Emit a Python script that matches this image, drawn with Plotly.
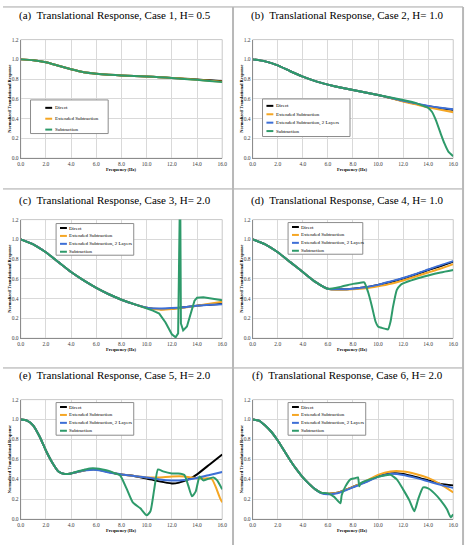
import plotly.graph_objects as go

W, H = 471, 548

# ---------------- data ----------------
series_names = ["Direct", "Extended Subtraction", "Extended Subtraction, 2 Layers", "Subtraction"]
series_colors = ["#000000", "#F5A623", "#3D6FD6", "#2E9A6A"]

x_ticks = [0, 2, 4, 6, 8, 10, 12, 14, 16]
y_ticks = [0.0, 0.2, 0.4, 0.6, 0.8, 1.0, 1.2]

# (a) Case 1
fa = [0, 1, 2, 3, 4, 5, 6, 7, 8, 9, 10, 11, 12, 13, 14, 15, 16]
a_direct = [1.00, 0.99, 0.97, 0.935, 0.90, 0.87, 0.855, 0.845, 0.838, 0.832, 0.826, 0.82, 0.812, 0.805, 0.797, 0.788, 0.778]
a_ext = [1.00, 0.99, 0.97, 0.935, 0.90, 0.87, 0.855, 0.845, 0.838, 0.832, 0.826, 0.82, 0.812, 0.804, 0.795, 0.785, 0.774]
a_sub = [1.00, 0.99, 0.97, 0.935, 0.90, 0.87, 0.855, 0.845, 0.838, 0.832, 0.826, 0.82, 0.811, 0.802, 0.793, 0.782, 0.770]

# (b) Case 2
fb = [0, 1, 2, 3, 4, 5, 6, 7, 8, 9, 10, 11, 12, 13, 14, 15, 16]
b_direct = [1.00, 0.98, 0.94, 0.88, 0.825, 0.78, 0.745, 0.715, 0.69, 0.665, 0.64, 0.61, 0.58, 0.55, 0.525, 0.505, 0.49]
b_ext = [1.00, 0.98, 0.94, 0.88, 0.825, 0.78, 0.745, 0.715, 0.69, 0.665, 0.64, 0.61, 0.575, 0.545, 0.515, 0.49, 0.465]
b_ext2 = [1.00, 0.98, 0.94, 0.88, 0.825, 0.78, 0.745, 0.715, 0.69, 0.665, 0.64, 0.612, 0.582, 0.555, 0.53, 0.51, 0.495]
fb_sub = [0, 1, 2, 3, 4, 5, 6, 7, 8, 9, 10, 11, 12, 13, 13.5, 14, 14.3, 14.6, 15, 15.3, 15.6, 16]
b_sub = [1.00, 0.98, 0.94, 0.88, 0.825, 0.78, 0.745, 0.715, 0.69, 0.665, 0.64, 0.615, 0.59, 0.56, 0.535, 0.51, 0.47, 0.39, 0.25, 0.15, 0.07, 0.02]

# (c) Case 3
fc = [0, 1, 2, 3, 4, 5, 6, 7, 8, 9, 10, 11, 12, 13, 14, 15, 16]
c_direct = [1.00, 0.95, 0.87, 0.77, 0.67, 0.585, 0.51, 0.445, 0.39, 0.345, 0.31, 0.295, 0.30, 0.315, 0.33, 0.34, 0.35]
c_ext = [1.00, 0.95, 0.87, 0.77, 0.67, 0.585, 0.51, 0.445, 0.39, 0.345, 0.308, 0.29, 0.295, 0.31, 0.33, 0.35, 0.37]
c_ext2 = [1.00, 0.95, 0.87, 0.77, 0.67, 0.585, 0.51, 0.445, 0.39, 0.345, 0.31, 0.30, 0.305, 0.315, 0.33, 0.34, 0.345]
fc_sub = [0, 1, 2, 3, 4, 5, 6, 7, 8, 9, 10, 10.5, 11, 11.5, 12, 12.3, 12.5, 12.6, 12.66, 12.72, 12.9, 13.2, 13.5, 13.8, 14, 14.5, 15, 16]
c_sub = [1.00, 0.95, 0.87, 0.77, 0.67, 0.585, 0.51, 0.445, 0.39, 0.345, 0.305, 0.28, 0.25, 0.16, 0.04, 0.01, 0.05, 1.6, 1.6, 0.15, 0.08, 0.12, 0.25, 0.38, 0.41, 0.415, 0.405, 0.385]

# (d) Case 4
fd = [0, 1, 2, 3, 4, 5, 6, 7, 8, 9, 10, 11, 12, 13, 14, 15, 16]
d_direct = [1.00, 0.95, 0.87, 0.77, 0.67, 0.57, 0.50, 0.495, 0.50, 0.515, 0.54, 0.57, 0.605, 0.645, 0.69, 0.73, 0.775]
d_ext = [1.00, 0.95, 0.87, 0.77, 0.67, 0.57, 0.50, 0.49, 0.495, 0.505, 0.525, 0.55, 0.585, 0.625, 0.665, 0.705, 0.75]
d_ext2 = [1.00, 0.95, 0.87, 0.77, 0.67, 0.57, 0.50, 0.495, 0.50, 0.515, 0.54, 0.575, 0.61, 0.65, 0.695, 0.74, 0.78]
fd_sub = [0, 1, 2, 3, 4, 5, 6, 7, 8, 8.5, 8.9, 9.2, 9.5, 9.8, 10, 10.3, 10.6, 10.8, 11, 11.2, 11.5, 11.8, 12, 13, 14, 15, 16]
d_sub = [1.00, 0.95, 0.87, 0.77, 0.67, 0.57, 0.50, 0.52, 0.55, 0.56, 0.565, 0.47, 0.33, 0.17, 0.12, 0.105, 0.095, 0.09, 0.17, 0.32, 0.49, 0.54, 0.555, 0.60, 0.635, 0.665, 0.69]

# (e) Case 5
fe = [0, 0.5, 1, 1.5, 2, 2.5, 3, 3.5, 4, 4.5, 5, 5.5, 6, 6.5, 7, 7.5, 8, 9, 10, 11, 12, 12.5, 13, 13.5, 14, 15, 16]
e_direct = [1.00, 0.99, 0.94, 0.83, 0.69, 0.57, 0.48, 0.455, 0.46, 0.475, 0.49, 0.50, 0.50, 0.49, 0.475, 0.46, 0.45, 0.435, 0.41, 0.38, 0.36, 0.365, 0.385, 0.41, 0.45, 0.55, 0.65]
fe_ext = [0, 0.5, 1, 1.5, 2, 2.5, 3, 3.5, 4, 4.5, 5, 5.5, 6, 6.5, 7, 7.5, 8, 9, 10, 11, 12, 13, 13.5, 14, 14.5, 15, 15.2, 15.5, 15.8, 16]
e_ext = [1.00, 0.99, 0.94, 0.83, 0.69, 0.57, 0.48, 0.455, 0.46, 0.475, 0.49, 0.50, 0.50, 0.49, 0.475, 0.46, 0.45, 0.435, 0.42, 0.42, 0.43, 0.43, 0.42, 0.41, 0.41, 0.41, 0.40, 0.32, 0.22, 0.17]
fe_ext2 = [0, 0.5, 1, 1.5, 2, 2.5, 3, 3.5, 4, 4.5, 5, 5.5, 6, 6.5, 7, 7.5, 8, 9, 10, 11, 12, 13, 14, 15, 16]
e_ext2 = [1.00, 0.99, 0.94, 0.83, 0.69, 0.57, 0.48, 0.455, 0.46, 0.475, 0.49, 0.495, 0.495, 0.485, 0.47, 0.46, 0.45, 0.435, 0.42, 0.40, 0.39, 0.395, 0.415, 0.445, 0.475]
fe_sub = [0, 0.5, 1, 1.5, 2, 2.5, 3, 3.5, 4, 4.5, 5, 5.5, 6, 6.5, 7, 7.5, 7.9, 8.4, 8.9, 9.5, 10, 10.3, 10.6, 10.9, 11.3, 12, 12.5, 13, 13.3, 13.6, 13.9, 14.2, 14.5, 15, 15.3, 15.6, 16]
e_sub = [1.00, 0.99, 0.94, 0.83, 0.69, 0.57, 0.48, 0.455, 0.46, 0.48, 0.495, 0.51, 0.51, 0.50, 0.485, 0.46, 0.44, 0.31, 0.17, 0.11, 0.04, 0.08, 0.30, 0.50, 0.48, 0.46, 0.46, 0.445, 0.34, 0.23, 0.28, 0.43, 0.39, 0.41, 0.42, 0.39, 0.30]

# (f) Case 6
ff = [0, 0.5, 1, 1.5, 2, 2.5, 3, 3.5, 4, 4.5, 5, 5.5, 6, 6.5, 7, 7.5, 8, 9, 10, 11, 12, 13, 14, 15, 16]
f_direct = [1.00, 0.99, 0.94, 0.875, 0.79, 0.69, 0.59, 0.50, 0.42, 0.355, 0.30, 0.265, 0.255, 0.26, 0.275, 0.30, 0.325, 0.375, 0.43, 0.46, 0.455, 0.425, 0.39, 0.355, 0.34]
f_ext = [1.00, 0.99, 0.94, 0.875, 0.79, 0.69, 0.59, 0.50, 0.42, 0.355, 0.30, 0.265, 0.255, 0.26, 0.275, 0.30, 0.325, 0.38, 0.445, 0.48, 0.48, 0.455, 0.415, 0.35, 0.27]
f_ext2 = [1.00, 0.99, 0.94, 0.875, 0.79, 0.69, 0.59, 0.50, 0.42, 0.355, 0.30, 0.26, 0.25, 0.255, 0.27, 0.295, 0.32, 0.37, 0.425, 0.455, 0.445, 0.415, 0.38, 0.345, 0.315]
ff_sub = [0, 0.5, 1, 1.5, 2, 2.5, 3, 3.5, 4, 4.5, 5, 5.5, 6, 6.5, 7, 7.1, 7.4, 7.8, 8.1, 8.4, 8.5, 8.6, 9, 10, 10.5, 11, 11.5, 12, 12.5, 12.9, 13.2, 13.6, 14, 14.5, 15, 15.5, 15.8, 16]
f_sub = [1.00, 0.99, 0.94, 0.875, 0.79, 0.69, 0.59, 0.50, 0.42, 0.355, 0.30, 0.265, 0.26, 0.225, 0.16, 0.24, 0.33, 0.40, 0.41, 0.42, 0.33, 0.36, 0.385, 0.425, 0.44, 0.445, 0.40, 0.30, 0.19, 0.08, 0.20, 0.32, 0.31, 0.26, 0.19, 0.10, 0.02, 0.05]

panel_titles = [
    "(a)  Translational Response, Case 1, H= 0.5",
    "(b)  Translational Response, Case 2, H= 1.0",
    "(c)  Translational Response, Case 3, H= 2.0",
    "(d)  Translational Response, Case 4, H= 1.0",
    "(e)  Translational Response, Case 5, H= 2.0",
    "(f)  Translational Response, Case 6, H= 2.0",
]

# per panel: list of (series index, x, y)
panels = [
    [(0, fa, a_direct), (1, fa, a_ext), (3, fa, a_sub)],
    [(0, fb, b_direct), (1, fb, b_ext), (2, fb, b_ext2), (3, fb_sub, b_sub)],
    [(0, fc, c_direct), (1, fc, c_ext), (2, fc, c_ext2), (3, fc_sub, c_sub)],
    [(0, fd, d_direct), (1, fd, d_ext), (2, fd, d_ext2), (3, fd_sub, d_sub)],
    [(0, fe, e_direct), (1, fe_ext, e_ext), (2, fe_ext2, e_ext2), (3, fe_sub, e_sub)],
    [(0, ff, f_direct), (1, ff, f_ext), (2, ff, f_ext2), (3, ff_sub, f_sub)],
]

# ---------------- layout geometry (pixels) ----------------
col_x = [(18, 223), (254, 458)]
row_y = [(37, 157), (219, 339), (401, 522)]
title_y = [13, 200, 377]
title_cx = [114, 350]

legend_boxes = [
    (28, 98, 107, 132, [106, 117, 128]),
    (264, 97, 353, 135, [104, 112.5, 121, 129.5]),
    (54, 223, 133, 255, [227.5, 235.5, 243.5, 251.5]),
    (290, 222, 366, 254, [226.5, 234.5, 242.5, 250.5]),
    (54, 404, 133, 437, [408.5, 416.5, 424.5, 432.5]),
    (290, 404, 369, 437, [408.5, 416.5, 424.5, 432.5]),
]


def px(x):
    return x / W


def py(y):
    return 1 - y / H


SERIF = "'Liberation Serif', 'Times New Roman', serif"
fig = go.Figure()
shapes = []
annotations = []

for i, traces in enumerate(panels):
    r, c = divmod(i, 2)
    n = i + 1
    xa = "x" if n == 1 else f"x{n}"
    ya = "y" if n == 1 else f"y{n}"
    for si, xs, ys in traces:
        is_spike = (i == 2 and si == 3)
        fig.add_trace(go.Scatter(
            x=xs, y=ys, mode="lines", name=series_names[si],
            line=dict(color=series_colors[si], width=2,
                      shape="linear" if is_spike else "spline", smoothing=0.5),
            xaxis=xa, yaxis=ya, showlegend=False,
        ))
    x0, x1 = col_x[c]
    y0, y1 = row_y[r]
    axkw = dict(showgrid=True, gridcolor="#d9d9d9", gridwidth=1, zeroline=False,
                showline=True, linecolor="#8c8c8c", linewidth=1, ticks="",
                tickfont=dict(family=SERIF, size=5.5, color="#404040"))
    fig.layout[f"xaxis{'' if n == 1 else n}"] = dict(
        domain=[px(x0), px(x1)], anchor=ya, range=[0, 16], tickvals=x_ticks,
        tickformat=".1f", **axkw)
    fig.layout[f"yaxis{'' if n == 1 else n}"] = dict(
        domain=[py(y1), py(y0)], anchor=xa, range=[0, 1.2], tickvals=y_ticks,
        tickformat=".1f", **axkw)
    # light frame around plot area
    shapes.append(dict(type="rect", xref="paper", yref="paper",
                       x0=px(x0), x1=px(x1), y0=py(y1), y1=py(y0),
                       line=dict(color="#c8c8c8", width=1), layer="below"))
    # title
    annotations.append(dict(text=panel_titles[i], xref="paper", yref="paper",
                            x=px(title_cx[c]), y=py(title_y[r]), xanchor="center", yanchor="middle",
                            showarrow=False, font=dict(family=SERIF, size=11, color="#000")))
    # axis titles
    annotations.append(dict(text="<b>Frequency (Hz)</b>", xref="paper", yref="paper",
                            x=px((x0 + x1) / 2), y=py(y1 + 11), xanchor="center", yanchor="middle",
                            showarrow=False, font=dict(family=SERIF, size=4.5, color="#000")))
    annotations.append(dict(text="<b>Normalized Translational Response</b>", xref="paper", yref="paper",
                            x=px(x0 - 11), y=py((y0 + y1) / 2), xanchor="center", yanchor="middle",
                            textangle=-90, showarrow=False,
                            font=dict(family=SERIF, size=4.5, color="#000")))
    # legend (manual)
    bx0, by0, bx1, by1, ey = legend_boxes[i]
    shapes.append(dict(type="rect", xref="paper", yref="paper",
                       x0=px(bx0), x1=px(bx1), y0=py(by1), y1=py(by0),
                       line=dict(color="#8c8c8c", width=1), fillcolor="white"))
    lx0 = bx0 + (15 if i == 0 else 4)
    for k, (si, _, _) in enumerate(traces):
        yy = ey[k]
        shapes.append(dict(type="line", xref="paper", yref="paper",
                           x0=px(lx0), x1=px(lx0 + 7), y0=py(yy), y1=py(yy),
                           line=dict(color=series_colors[si], width=2)))
        annotations.append(dict(text=series_names[si], xref="paper", yref="paper",
                                x=px(lx0 + 7.5), y=py(yy), xanchor="left", yanchor="middle",
                                showarrow=False, font=dict(family=SERIF, size=5, color="#000")))

# cell borders
bc = "#a6a6a6"
shapes += [
    dict(type="line", xref="paper", yref="paper", x0=0, x1=px(468), y0=py(4), y1=py(4), line=dict(color=bc, width=1)),
    dict(type="line", xref="paper", yref="paper", x0=0, x1=px(468), y0=py(188), y1=py(188), line=dict(color=bc, width=1)),
    dict(type="line", xref="paper", yref="paper", x0=0, x1=px(468), y0=py(369), y1=py(369), line=dict(color=bc, width=1)),
    dict(type="line", xref="paper", yref="paper", x0=px(234), x1=px(234), y0=py(4), y1=0, line=dict(color="#b8b8b8", width=2)),
    dict(type="line", xref="paper", yref="paper", x0=px(468), x1=px(468), y0=py(4), y1=0, line=dict(color="#b8b8b8", width=2)),
]

fig.update_layout(
    width=W, height=H, margin=dict(l=0, r=0, t=0, b=0),
    paper_bgcolor="white", plot_bgcolor="white",
    shapes=shapes, annotations=annotations, showlegend=False,
)

fig.write_html("out.html")
